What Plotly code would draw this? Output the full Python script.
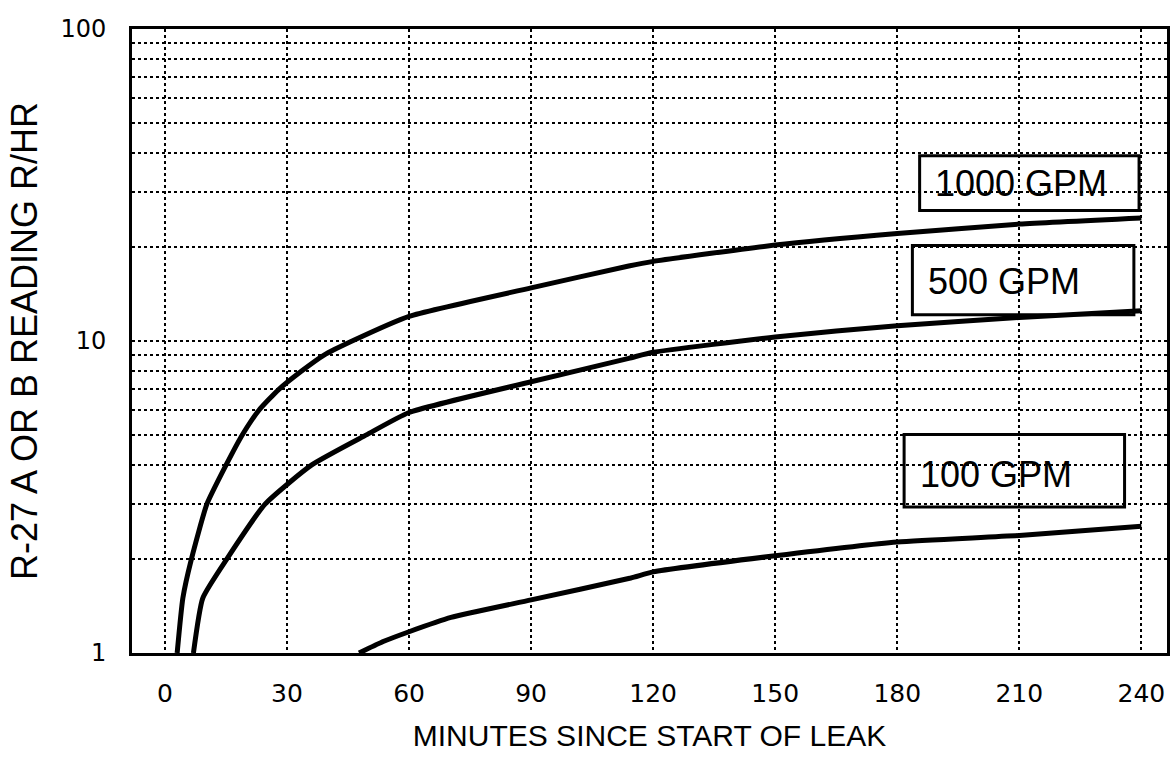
import plotly.graph_objects as go

# ---- data ----
minutes_1000 = [3, 4.4, 6.5, 10.3, 15, 19, 23.1, 28, 33.5, 39, 46, 60, 90, 114, 120, 150, 180, 210, 240]
rate_1000 = [1, 1.5, 2, 3, 4, 5, 6, 7, 8, 9, 10, 12.0, 14.8, 17.4, 18.0, 20.3, 22.1, 23.7, 24.8]

minutes_500 = [7, 9.3, 15.2, 24.6, 36, 49.5, 60, 90, 114, 120, 150, 180, 210, 240]
rate_500 = [1, 1.5, 2, 3, 4, 5, 5.9, 7.4, 8.8, 9.2, 10.3, 11.2, 11.9, 12.5]

minutes_100 = [47.7, 53.8, 60, 70.3, 90, 114.5, 120, 150, 180, 210, 240]
rate_100 = [1, 1.09, 1.17, 1.30, 1.48, 1.74, 1.82, 2.05, 2.27, 2.38, 2.55]

series_labels = ["1000 GPM", "500 GPM", "100 GPM"]

x_tick_vals = [0, 30, 60, 90, 120, 150, 180, 210, 240]
x_tick_text = ["0", "30", "60", "90", "120", "150", "180", "210", "240"]

y_tick_vals = [1, 2, 3, 4, 5, 6, 7, 8, 9, 10, 20, 30, 40, 50, 60, 70, 80, 90, 100]
y_tick_text = ["1", "", "", "", "", "", "", "", "", "10", "", "", "", "", "", "", "", "", "100"]

x_title = "MINUTES SINCE START OF LEAK"
y_title = "R-27 A OR B READING R/HR"

# ---- figure ----
fig = go.Figure()
for xs, ys, name in [(minutes_1000, rate_1000, series_labels[0]),
                     (minutes_500, rate_500, series_labels[1]),
                     (minutes_100, rate_100, series_labels[2])]:
    fig.add_trace(go.Scatter(
        x=xs, y=ys, mode="lines", name=name,
        line=dict(color="black", width=5, shape="spline", smoothing=0.5),
        showlegend=False, hoverinfo="skip",
    ))

grid_style = dict(showgrid=True, gridcolor="black", gridwidth=2.3, griddash="2.5px,3.5px",
                  showline=True, linecolor="black", linewidth=3, mirror=True,
                  ticks="", zeroline=False)

fig.update_layout(
    width=1172, height=759,
    margin=dict(l=132, r=2, t=29, b=106),
    paper_bgcolor="white", plot_bgcolor="white",
    font=dict(family="Liberation Sans, Arial, sans-serif", color="black"),
    xaxis=dict(
        range=[-8.1, 246.3],
        tickvals=x_tick_vals, ticktext=x_tick_text,
        tickfont=dict(family="DejaVu Sans", size=25, color="black"),
        ticklabelstandoff=16,
        title=dict(text=x_title, font=dict(family="Liberation Sans", size=30, color="black"), standoff=18),
        **grid_style,
    ),
    yaxis=dict(
        type="log", range=[0, 2],
        tickvals=y_tick_vals, ticktext=y_tick_text,
        tickfont=dict(family="DejaVu Sans", size=24, color="black"),
        ticklabelstandoff=18,
        title=dict(text=y_title, font=dict(family="Liberation Sans", size=36, color="black"), standoff=12),
        **grid_style,
    ),
)

# boxed curve labels (paper coordinates of the plot area)
boxes = [
    (0.761, 0.973, 0.709, 0.797, 0.774, 0.752),
    (0.754, 0.968, 0.542, 0.653, 0.767, 0.595),
    (0.746, 0.959, 0.234, 0.350, 0.759, 0.286),
]
for (x0, x1, y0, y1, tx, ty), label in zip(boxes, series_labels):
    fig.add_shape(type="rect", xref="paper", yref="paper", x0=x0, x1=x1, y0=y0, y1=y1,
                  line=dict(color="black", width=3), fillcolor="rgba(0,0,0,0)", layer="above")
    fig.add_annotation(xref="paper", yref="paper", x=tx, y=ty, xanchor="left", yanchor="middle",
                       text=label, showarrow=False,
                       font=dict(family="Liberation Sans", size=36, color="black"))

fig.write_html("out.html")
